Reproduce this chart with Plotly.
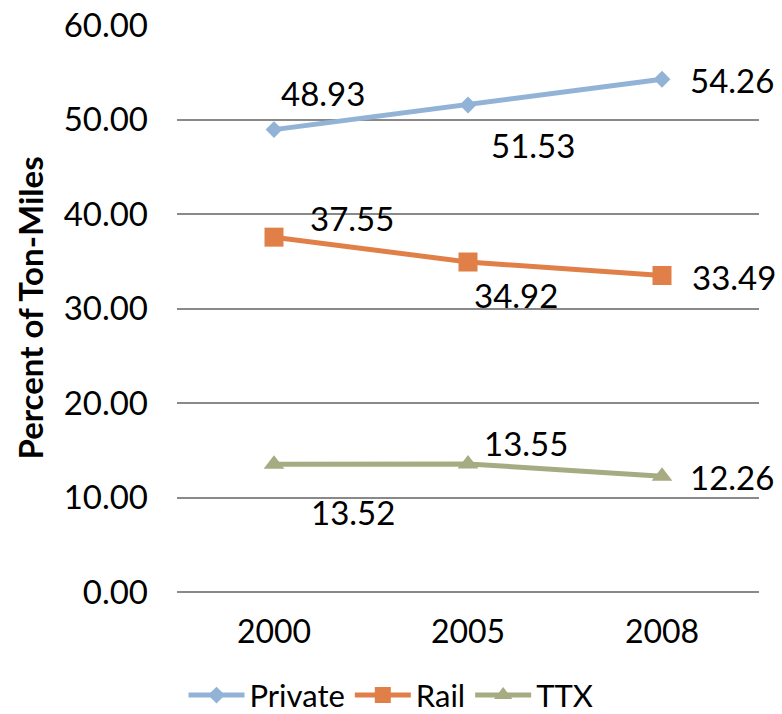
import plotly.graph_objects as go

years = ["2000", "2005", "2008"]
private = [48.93, 51.53, 54.26]
rail = [37.55, 34.92, 33.49]
ttx = [13.52, 13.55, 12.26]

y_ticks = [0, 10, 20, 30, 40, 50, 60]

FONT = "Lato"
series = [
    ("Private", private, "#93B3D6", "diamond", 13),
    ("Rail", rail, "#E08048", "square", 19),
    ("TTX", ttx, "#A6AB82", "triangle-up", 18),
]

# label offsets (px) per series and point: (xshift, yshift)
label_offsets = {
    "Private": [(5, 37), (21, -40), (26, -1)],
    "Rail": [(34, 19), (4, -33), (28, -1)],
    "TTX": [(35, -48), (14, 21), (26, -1)],
}

fig = go.Figure()
annotations = []
for name, vals, color, symbol, msize in series:
    fig.add_trace(go.Scatter(
        x=years, y=vals, name=name, mode="lines+markers",
        line=dict(color=color, width=5),
        marker=dict(symbol=symbol, size=msize, color=color, line=dict(width=0)),
    ))
    for i, (yv, (dx, dy)) in enumerate(zip(vals, label_offsets[name])):
        annotations.append(dict(
            x=i, y=yv, xref="x", yref="y", text=f"{yv:.2f}",
            showarrow=False, xanchor="left", yanchor="middle",
            xshift=dx, yshift=dy,
            font=dict(family=FONT, size=33, color="#000000"),
        ))

annotations.append(dict(
    x=0, y=0.5, xref="paper", yref="paper", xshift=-148,
    text="<b>Percent of Ton-Miles</b>", textangle=-90, showarrow=False,
    xanchor="center", yanchor="middle",
    font=dict(family=FONT, size=33, color="#000000"),
))

fig.update_layout(
    width=782, height=714,
    margin=dict(l=177, r=23, t=25, b=122, autoexpand=False),
    paper_bgcolor="white", plot_bgcolor="white",
    font=dict(family=FONT, color="#000000"),
    showlegend=True,
    legend=dict(
        orientation="h", xref="container", yref="container",
        x=0.5, xanchor="center", y=0.026, yanchor="middle",
        font=dict(family=FONT, size=31, color="#000000"),
        itemwidth=56, tracegroupgap=0,
    ),
    annotations=annotations,
    xaxis=dict(
        type="category", range=[-0.5, 2.5], showgrid=False, showline=False,
        ticks="", ticklabelstandoff=18, automargin=False,
        tickfont=dict(family=FONT, size=32, color="#000000"),
    ),
    yaxis=dict(
        range=[0, 60], tickvals=y_ticks, tickformat=".2f",
        showgrid=True, gridcolor="#898989", gridwidth=2,
        zeroline=True, zerolinecolor="#898989", zerolinewidth=2,
        showline=False, ticks="", ticklabelstandoff=28, automargin=False,
        tickfont=dict(family=FONT, size=33, color="#000000"),
    ),
)

fig.write_html("out.html")
